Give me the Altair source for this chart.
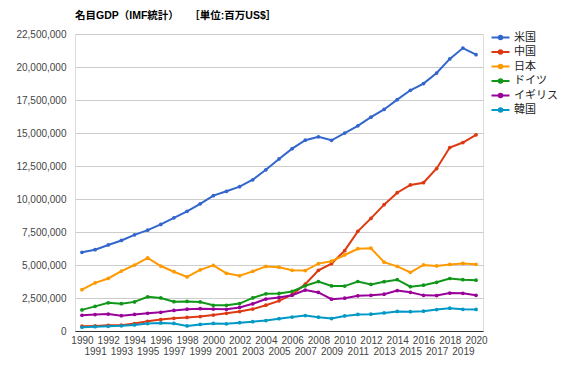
import altair as alt
import pandas as pd

years = list(range(1990, 2021))
countries = ["米国", "中国", "日本", "ドイツ", "イギリス", "韓国"]
colors = ["#3366cc", "#dc3912", "#ff9900", "#109618", "#990099", "#0099c6"]

us = [5963, 6158, 6520, 6859, 7287, 7640, 8073, 8578, 9063, 9631, 10252, 10582, 10936, 11458, 12214, 13037,
      13815, 14452, 14713, 14449, 14992, 15543, 16197, 16785, 17527, 18238, 18745, 19543, 20612, 21433, 20937]
cn = [361, 383, 427, 445, 564, 734, 863, 962, 1029, 1094, 1211, 1339, 1471, 1660, 1955, 2286,
      2752, 3550, 4594, 5102, 6087, 7552, 8532, 9570, 10476, 11062, 11233, 12310, 13895, 14280, 14866]
jp = [3133, 3648, 3980, 4537, 4999, 5545, 4923, 4492, 4098, 4635, 4968, 4374, 4183, 4519, 4893, 4831,
      4601, 4579, 5106, 5289, 5759, 6233, 6272, 5212, 4897, 4444, 5004, 4931, 5041, 5118, 5049]
de = [1599, 1868, 2131, 2071, 2206, 2592, 2504, 2219, 2244, 2200, 1950, 1951, 2079, 2505, 2815, 2846,
      2994, 3425, 3745, 3411, 3400, 3750, 3528, 3733, 3889, 3357, 3469, 3690, 3977, 3889, 3846]
uk = [1193, 1246, 1285, 1164, 1256, 1345, 1420, 1562, 1653, 1687, 1665, 1642, 1787, 2061, 2419, 2539,
      2713, 3101, 2923, 2410, 2485, 2664, 2706, 2786, 3065, 2934, 2699, 2683, 2877, 2857, 2708]
kr = [284, 330, 356, 392, 463, 566, 610, 570, 383, 497, 576, 547, 627, 702, 793, 935,
      1053, 1172, 1047, 944, 1144, 1253, 1278, 1370, 1484, 1466, 1500, 1623, 1725, 1647, 1631]

series = [us, cn, jp, de, uk, kr]
rows = []
for name, vals in zip(countries, series):
    for y, v in zip(years, vals):
        rows.append({"year": y, "country": name, "gdp": v * 1000})
df = pd.DataFrame(rows)

FONT = "Liberation Sans, Arial, Noto Sans CJK JP"

legend_path = "M-2,0H2M-0.4,0a0.4,0.4 0 1,0 0.8,0a0.4,0.4 0 1,0 -0.8,0"

chart = alt.Chart(df).mark_line(
    strokeWidth=2,
    point=alt.OverlayMarkDef(filled=True, size=14),
).encode(
    x=alt.X("year:Q",
            scale=alt.Scale(domain=[1989.47, 2020.53], nice=False, zero=False),
            axis=alt.Axis(values=years, format="d", grid=False, ticks=False,
                          domain=True, domainColor="#333333", domainWidth=1,
                          labelFontSize=10, labelColor="#444444", labelFont=FONT,
                          labelPadding=4, labelLineHeight=11, labelBaseline="top",
                          labelOverlap=False,
                          labelExpr="datum.value % 2 == 1 ? ['', datum.label] : datum.label",
                          title=None)),
    y=alt.Y("gdp:Q",
            scale=alt.Scale(domain=[0, 22500000], nice=False),
            axis=alt.Axis(values=[i * 2500000 for i in range(10)], format=",d",
                          grid=True, gridColor="#cccccc", gridWidth=1,
                          ticks=False, domain=False,
                          labelFontSize=10, labelColor="#444444", labelFont=FONT,
                          labelPadding=9, title=None)),
    color=alt.Color("country:N",
                    scale=alt.Scale(domain=countries, range=colors),
                    sort=countries,
                    legend=alt.Legend(orient="none", legendX=420, legendY=-2,
                                      title=None, symbolType=legend_path,
                                      symbolSize=81, symbolStrokeWidth=2,
                                      symbolFillColor="transparent",
                                      labelFontSize=11, labelColor="#222222",
                                      labelFont=FONT, rowPadding=1.5,
                                      labelOffset=8, padding=0)),
).properties(
    width=408,
    height=297,
    title=alt.TitleParams(
        "名目GDP（IMF統計）　　［単位:百万US$］",
        anchor="start", frame="group", fontSize=10.5, fontWeight="bold",
        font=FONT, color="#000000", offset=8,
    ),
    autosize=alt.AutoSizeParams(type="none"),
    padding={"left": 67, "top": 26, "right": 77, "bottom": 30},
).configure_view(stroke=None).configure(background="white")

chart.save("out.html", embed_options={"renderer": "svg", "actions": False})
